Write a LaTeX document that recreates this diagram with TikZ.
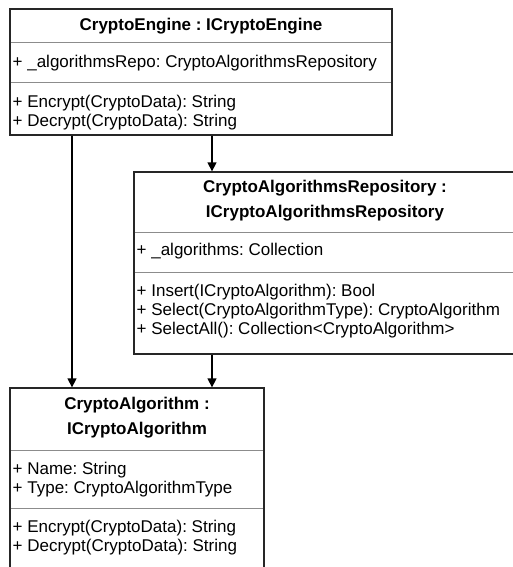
\documentclass[tikz,border=0pt]{standalone}
\usepackage{fontspec}
\setmainfont{Liberation Sans}
\usetikzlibrary{arrows.meta}
\begin{document}
\frenchspacing
\begin{tikzpicture}[x=1pt,y=-1pt,
  umlbox/.style={draw=black!85, line width=1.3pt, fill=white, inner sep=0pt},
  sepline/.style={draw=black!45, line width=1pt},
  ttl/.style={font=\fontsize{17}{25}\selectfont\bfseries, align=center, inner sep=0pt, anchor=center},
  txt/.style={font=\fontsize{17}{19.3}\selectfont, align=left, inner sep=0pt, anchor=west},
  arr/.style={draw=black, line width=1.3pt, -{Triangle[length=9pt,width=9pt]}}]
\useasboundingbox (0,0) rectangle (513,567);
\fill[white] (0,0) rectangle (513,567);
\begin{scope}
\clip (0,0) rectangle (513,567);
% CryptoEngine
\node[umlbox, minimum width=382pt, minimum height=126pt] (eng) at (201,72) {};
\draw[sepline] (10.6,43) -- (391.4,43);
\draw[sepline] (10.6,83) -- (391.4,83);
\node[ttl] (engT) at (201,26) {CryptoEngine : ICryptoEngine};
\node[txt] (engA) at (12.5,63) {+ \_algorithmsRepo: CryptoAlgorithmsRepository};
\node[txt] (engM) at (12.5,112.5) {+ Encrypt(CryptoData): String\\+ Decrypt(CryptoData): String};
% Repository
\node[umlbox, minimum width=383pt, minimum height=182pt] (rep) at (325.5,263) {};
\draw[sepline] (134.6,232) -- (520,232);
\draw[sepline] (134.6,272.5) -- (520,272.5);
\node[ttl] (repT) at (325,200.5) {CryptoAlgorithmsRepository :\\ICryptoAlgorithmsRepository};
\node[txt] (repA) at (136.5,251.5) {+ \_algorithms: Collection};
\node[txt] (repM) at (136.5,311) {+ Insert(ICryptoAlgorithm): Bool\\+ Select(CryptoAlgorithmType): CryptoAlgorithm\\+ SelectAll(): Collection<CryptoAlgorithm>};
% CryptoAlgorithm
\node[umlbox, minimum width=254pt, minimum height=190pt] (alg) at (137,483) {};
\draw[sepline] (10.6,450.5) -- (263.4,450.5);
\draw[sepline] (10.6,508.5) -- (263.4,508.5);
\node[ttl] (algT) at (137,418) {CryptoAlgorithm :\\ICryptoAlgorithm};
\node[txt] (algA) at (12.5,479.5) {+ Name: String\\+ Type: CryptoAlgorithmType};
\node[txt] (algM) at (12.5,537.5) {+ Encrypt(CryptoData): String\\+ Decrypt(CryptoData): String};
\end{scope}
% connectors
\coordinate (cl) at (72,0);
\coordinate (cr) at (212,0);
\draw[arr] (cl |- eng.south) -- (cl |- alg.north);
\draw[arr] (cr |- eng.south) -- (cr |- rep.north);
\draw[arr] (cr |- rep.south) -- (cr |- alg.north);
\end{tikzpicture}
\end{document}
